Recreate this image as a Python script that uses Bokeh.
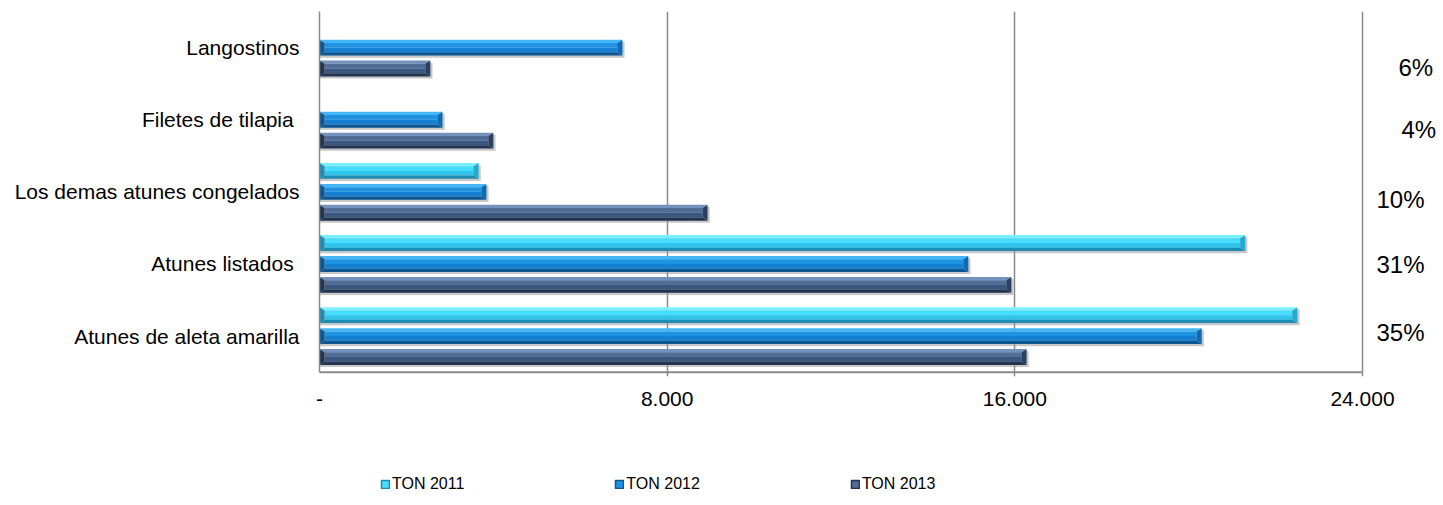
from bokeh.plotting import figure
from bokeh.layouts import column
from bokeh.models import (Range1d, FixedTicker, ColumnDataSource, Legend, LegendItem)
from bokeh.core.properties import value
from bokeh.embed import file_html
from bokeh.resources import INLINE

# ---------------- data ----------------
categories = ["Langostinos", "Filetes  de tilapia", "Los demas atunes congelados",
              "Atunes listados ", "Atunes de aleta amarilla"]
series_names = ["TON 2011", "TON 2012", "TON 2013"]
ton_2011 = [0, 0, 3660, 21300, 22500]
ton_2012 = [6970, 2830, 3840, 14930, 20300]
ton_2013 = [2550, 4000, 8930, 15920, 16270]
shares = ["6%", "4%", "10%", "31%", "35%"]
x_ticks = [0, 8000, 16000, 24000]
x_tick_labels = ["-", "8.000", "16.000", "24.000"]

# ---------------- style ----------------
FONT = "Liberation Sans"
GRAY = "#8a8a8a"
palettes = {
    # top bevel, face upper, face lower, bottom bevel, side bevel
    "TON 2011": ["#7af0ff", "#45dcff", "#2fc4ec", "#1c8db0", "#24a9d0"],
    "TON 2012": ["#45b6f5", "#1f93e3", "#1680d2", "#0c5793", "#0e6bb3"],
    "TON 2013": ["#7391bb", "#4f6d96", "#3b5780", "#223450", "#2b405f"],
}
offsets = {"TON 2011": 0.29, "TON 2012": 0.0, "TON 2013": -0.29}
HH = 0.11       # half bar height (category units)
BY = 0.045      # bevel depth (category units)
BX = 115        # bevel depth (value units)

AXIS_W = 1043           # pixel width of the 0..24000 value axis
FRAME_W = 1122          # frame extends right to hold the share labels
LEFT = 319
TOTAL_W = LEFT + FRAME_W
n = len(categories)
ypos = [n - 1 - i for i in range(n)]
x_end = x_ticks[-1] * FRAME_W / AXIS_W
y_lo, y_hi = -0.5, n - 0.5
y_pad = 0.06            # extra room under the value axis line

p = figure(frame_width=FRAME_W, frame_height=365, width=TOTAL_W, height=460,
           x_range=Range1d(0, x_end), y_range=Range1d(y_lo - y_pad, y_hi),
           output_backend="svg", toolbar_location=None,
           min_border_left=LEFT, min_border_right=0, min_border_top=11,
           min_border_bottom=84)
p.outline_line_color = None
p.background_fill_color = "white"
p.border_fill_color = "white"

for name, vals in zip(series_names, [ton_2011, ton_2012, ton_2013]):
    c0, c1, c2, c3, c4 = palettes[name]
    off = offsets[name]
    sh = dict(left=[], right=[], y=[])
    top, fu, fl, bot, side_r, side_l = ([] for _ in range(6))
    for v, yp in zip(vals, ypos):
        if v <= 0:
            continue
        c = yp + off
        sh["left"].append(0); sh["right"].append(v + 50); sh["y"].append(c - 0.03)
        yt, yb = c + HH, c - HH
        top.append(([0, v, v - BX, BX], [yt, yt, yt - BY, yt - BY]))
        bot.append(([0, v, v - BX, BX], [yb, yb, yb + BY, yb + BY]))
        side_r.append(([v, v, v - BX, v - BX], [yt, yb, yb + BY, yt - BY]))
        side_l.append(([0, 0, BX, BX], [yt, yb, yb + BY, yt - BY]))
        fu.append(([BX, v - BX, v - BX, BX], [c, c, yt - BY, yt - BY]))
        fl.append(([BX, v - BX, v - BX, BX], [yb + BY, yb + BY, c, c]))
    p.hbar(y="y", left="left", right="right", height=2 * HH,
           source=ColumnDataSource(sh), fill_color="#9a9a9a", fill_alpha=0.55,
           line_color=None)

    def draw(parts, color):
        src = ColumnDataSource(dict(xs=[a for a, b in parts], ys=[b for a, b in parts]))
        return p.patches("xs", "ys", source=src, fill_color=color, line_color=None)

    draw(fl, c2)
    draw(fu, c1)
    draw(top, c0)
    draw(bot, c3)
    draw(side_r, c4)
    draw(side_l, c3)

# value-axis base line, drawn over the value scale only
p.segment(x0=[x_ticks[0]], x1=[x_ticks[-1]], y0=[y_lo], y1=[y_lo],
          line_color=GRAY, line_width=2)

# right-side share labels
share_dx = [36, 39, 14, 14, 14]
share_dy = [20, 10, 8, 1, -4]
p.text(x=[x_ticks[-1]] * n, y=ypos, text=shares, x_offset=share_dx, y_offset=share_dy,
       text_font=value(FONT), text_font_size="24px", text_color="#000000",
       text_baseline="middle", text_align="left")

# axes
p.xaxis.ticker = FixedTicker(ticks=x_ticks)
p.xaxis.major_label_overrides = {t: l for t, l in zip(x_ticks, x_tick_labels)}
p.xaxis.major_tick_line_color = None
p.xaxis.minor_tick_line_color = None
p.xaxis.axis_line_color = None
p.xaxis.major_label_standoff = 9
p.xaxis.major_label_text_font = FONT
p.xaxis.major_label_text_font_size = "21px"
p.xaxis.major_label_text_color = "#000000"

p.yaxis.ticker = FixedTicker(ticks=ypos)
p.yaxis.bounds = (y_lo, y_hi)
p.yaxis.major_label_overrides = {yp: c for yp, c in zip(ypos, categories)}
p.yaxis.major_tick_line_color = None
p.yaxis.minor_tick_line_color = None
p.yaxis.axis_line_color = GRAY
p.yaxis.axis_line_width = 1.5
p.yaxis.major_label_standoff = 14
p.yaxis.major_label_text_font = FONT
p.yaxis.major_label_text_font_size = "21px"
p.yaxis.major_label_text_color = "#000000"

p.xgrid.ticker = FixedTicker(ticks=x_ticks[1:])
p.xgrid.bounds = (y_lo, y_hi)
p.xgrid.grid_line_color = GRAY
p.xgrid.grid_line_width = 1.5
p.ygrid.grid_line_color = None

# ---------------- legend strip ----------------
lg = figure(width=TOTAL_W, height=40, x_range=Range1d(0, 1), y_range=Range1d(0, 1),
            x_axis_type=None, y_axis_type=None, output_backend="svg",
            toolbar_location=None, min_border=0)
lg.outline_line_color = None
lg.grid.grid_line_color = None
items = []
for name in series_names:
    # swatch renderer kept outside the visible range; only its legend glyph shows
    r = lg.rect(x=[-10], y=[-10], width=1, height=1, fill_color=palettes[name][1],
                line_color=palettes[name][3], line_width=1.5)
    items.append(LegendItem(label=name, renderers=[r]))
legend = Legend(items=items, orientation="horizontal", location=(383 - 3 - LEFT, 7),
                spacing=150, glyph_width=10, glyph_height=10, label_standoff=2,
                padding=3, margin=0,
                label_text_font=FONT, label_text_font_size="16px",
                label_text_color="#000000", border_line_color=None,
                background_fill_alpha=0)
lg.add_layout(legend, "center")

open("out.html", "w").write(file_html(column(p, lg, spacing=0), INLINE))
